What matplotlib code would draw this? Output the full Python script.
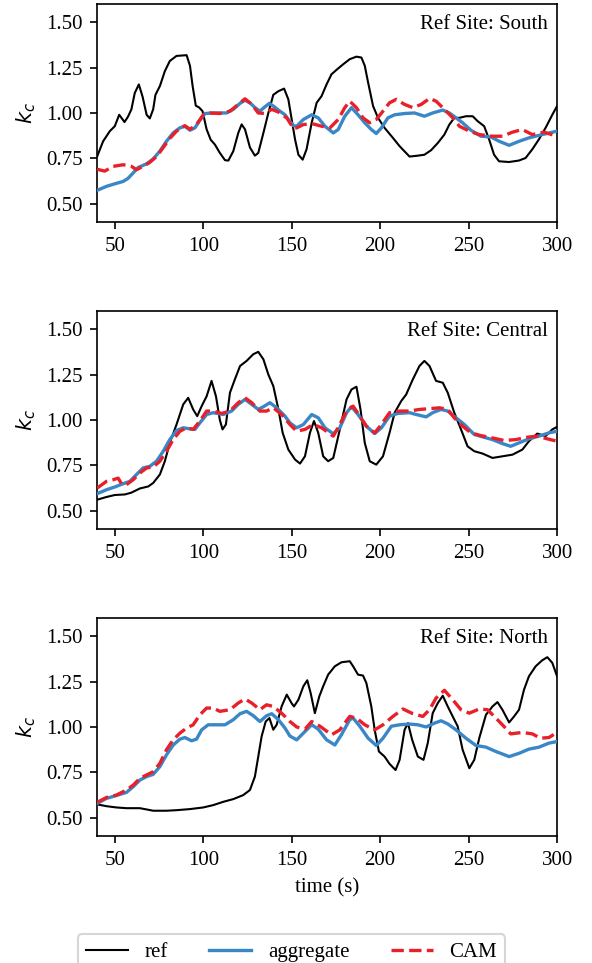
import matplotlib
matplotlib.use("Agg")
import matplotlib.pyplot as plt
from matplotlib.lines import Line2D

plt.rcParams['font.family'] = ['Liberation Serif', 'DejaVu Serif']
plt.rcParams['mathtext.fontset'] = 'dejavusans'

# ---------------- data ----------------
sites = ["South", "Central", "North"]

# South
s_ref_x = [40, 43.4, 47.2, 50, 52.5, 54, 55.5, 57.5, 59.4, 61.3, 63.6, 65.7, 68, 69.8, 71.7, 73, 75.5, 78.3, 81.1, 84.9,
           90.6, 92.5, 94, 95.8, 97.7, 99.6, 101.9, 104.2, 106.6, 109.4, 112.3, 114.2, 117, 119.8, 121.7, 123.6, 126.4,
           129.2, 131.1, 134, 136.8, 139.6, 142.5, 145.7, 148.1, 151.9, 153.8, 156.2, 158.4, 161.3, 164.1, 166.9,
           169.7, 172.5, 175.3, 179.1, 182.8, 186.6, 189.4, 191.3, 193.2, 196, 198.8, 202.5, 207.2, 211, 216.6, 221.3,
           225, 228.8, 232.6, 236.3, 239.1, 241.9, 244.7, 248.5, 252.3, 255.1, 258.8, 261.6, 264.4, 267.2, 272.8,
           278.4, 282.2, 286, 289.7, 293.5, 297.3, 300]
s_ref_y = [0.76, 0.844, 0.90, 0.927, 0.99, 0.97, 0.95, 0.98, 1.02, 1.11, 1.157, 1.09, 0.99, 0.97, 1.02, 1.10, 1.148, 1.23,
           1.286, 1.314, 1.318, 1.26, 1.148, 1.04, 1.03, 1.01, 0.91, 0.853, 0.826, 0.78, 0.74, 0.738, 0.79, 0.89,
           0.937, 0.91, 0.81, 0.765, 0.78, 0.89, 1.0, 1.10, 1.12, 1.134, 1.075, 0.854, 0.77, 0.743, 0.80, 0.946,
           1.056, 1.093, 1.157, 1.213, 1.237, 1.268, 1.296, 1.31, 1.305, 1.26, 1.167, 1.038, 0.973, 0.918, 0.863,
           0.817, 0.76, 0.765, 0.77, 0.795, 0.835, 0.881, 0.936, 0.973, 0.973, 0.982, 0.982, 0.955, 0.927, 0.854,
           0.77, 0.734, 0.73, 0.738, 0.752, 0.80, 0.854, 0.918, 0.99, 1.038]
s_agg_x = [40, 45.3, 50, 54.7, 57.5, 60.4, 63.2, 68, 71.7, 75.5, 79.2, 83, 86.8, 89.6, 92.5, 95.3, 98.1, 101, 105.7,
           113.2, 117, 120.8, 123.6, 126.4, 129.2, 132, 134.9, 137.4, 139.6, 142.5, 146.2, 148.1, 151, 152.8, 156.6,
           161.3, 165, 168.8, 173.5, 176.3, 180, 183.8, 187.5, 191.3, 195, 197.8, 200.7, 204.4, 208.2, 213.8, 219.4,
           225, 229.7, 235.4, 239.1, 242.9, 246.6, 251.3, 257, 262.6, 267.3, 272.9, 278.5, 284.1, 291.6, 300]
s_agg_y = [0.574, 0.596, 0.61, 0.623, 0.64, 0.67, 0.70, 0.72, 0.747, 0.79, 0.844, 0.89, 0.918, 0.927, 0.905, 0.918,
           0.96, 0.997, 1.0, 1.0, 1.02, 1.053, 1.07, 1.056, 1.03, 1.01, 1.034, 1.053, 1.038, 1.016, 0.99, 0.964, 0.93,
           0.927, 0.964, 0.99, 0.973, 0.927, 0.89, 0.909, 0.982, 1.029, 0.99, 0.946, 0.909, 0.887, 0.918, 0.973, 0.99,
           0.997, 1.0, 0.982, 1.0, 1.016, 1.0, 0.973, 0.946, 0.905, 0.872, 0.868, 0.844, 0.822, 0.844, 0.863, 0.881,
           0.90]
s_cam_x = [40, 44.3, 49.1, 54.7, 59.4, 62.3, 66, 69.8, 73.6, 77.4, 81.1, 84.9, 89.6, 92.5, 96.2, 100, 103.8, 109.4,
           115.1, 118.9, 123.6, 127.4, 131.1, 134.9, 138.7, 142.5, 147.2, 151, 152.8, 156.6, 161.3, 166.9, 171.6,
           176.3, 180, 182.8, 186.6, 190.3, 194.1, 197.8, 201.6, 205.3, 209.1, 213.8, 218.5, 223.2, 227.9, 231.6,
           236.3, 241.1, 244.8, 250.4, 256, 263.5, 269.1, 274.7, 280.3, 286, 292.6, 300]
s_cam_y = [0.69, 0.68, 0.706, 0.715, 0.706, 0.688, 0.706, 0.728, 0.76, 0.81, 0.86, 0.90, 0.93, 0.91, 0.936, 0.99, 1.0,
           0.997, 1.01, 1.04, 1.078, 1.047, 1.0, 0.997, 1.02, 1.005, 0.973, 0.915, 0.918, 0.936, 0.942, 0.927, 0.918,
           0.964, 1.029, 1.065, 1.029, 0.973, 0.946, 0.964, 1.01, 1.056, 1.075, 1.047, 1.029, 1.047, 1.08, 1.065,
           1.02, 0.973, 0.927, 0.90, 0.881, 0.872, 0.872, 0.894, 0.909, 0.881, 0.894, 0.872]

# Central
c_ref_x = [40, 45.3, 50, 55.7, 59.4, 64.2, 68.9, 71.7, 75.5, 78.3, 81.1, 84.9, 88.7, 91.5, 94.3, 96.6, 99.1, 101.9,
           104.7, 107.2, 109.4, 110.9, 112.8, 115.1, 117.9, 120.8, 124.5, 128.3, 131.1, 134, 136.8, 139.6, 142.5,
           144.9, 148.1, 151.9, 154.7, 157.5, 160.3, 162.6, 165, 167.8, 170.6, 173.5, 177.2, 181, 183.8, 186.6,
           188.9, 191.3, 194.1, 197.8, 201.6, 205.3, 208.2, 211.9, 214.7, 218.5, 222.2, 225, 227.9, 231.6, 235.4,
           238.2, 241.9, 245.7, 249.4, 253.2, 257.9, 263.5, 269.1, 274.8, 280.4, 284.1, 288.8, 293.5, 297.3, 300]
c_ref_y = [0.561, 0.576, 0.587, 0.59, 0.60, 0.623, 0.634, 0.653, 0.70, 0.773, 0.874, 0.975, 1.086, 1.122, 1.058, 1.021,
           1.076, 1.13, 1.215, 1.13, 1.0, 0.948, 0.975, 1.15, 1.224, 1.297, 1.325, 1.362, 1.375, 1.334, 1.25, 1.187,
           1.058, 0.929, 0.837, 0.782, 0.76, 0.80, 0.929, 0.994, 0.929, 0.80, 0.773, 0.791, 0.948, 1.113, 1.168,
           1.183, 1.058, 0.874, 0.773, 0.754, 0.80, 0.929, 1.04, 1.104, 1.14, 1.224, 1.297, 1.325, 1.297, 1.215,
           1.205, 1.15, 1.04, 0.948, 0.855, 0.828, 0.815, 0.791, 0.80, 0.809, 0.837, 0.883, 0.925, 0.911, 0.948,
           0.962]
c_agg_x = [40, 45.3, 50, 54.7, 58.5, 62.3, 66, 69.8, 73.6, 77.4, 81.1, 84.9, 88.7, 92.5, 95.3, 98.1, 101.9, 105.7,
           111.3, 116, 119.8, 123.6, 127.4, 131.1, 134, 137.7, 141.5, 146.2, 149, 152.8, 156.6, 161.3, 165, 168.8,
           173.5, 177.2, 181, 183.8, 187.5, 192.2, 196.9, 200.7, 205.3, 210, 216.6, 220.4, 226, 229.7, 234.4, 238.2,
           242.9, 247.6, 253.2, 257.9, 263.5, 269.1, 273.8, 278.5, 284.1, 289.8, 295.4, 300]
c_agg_y = [0.594, 0.616, 0.631, 0.649, 0.662, 0.70, 0.736, 0.745, 0.773, 0.828, 0.892, 0.942, 0.957, 0.951, 0.948,
           0.984, 1.03, 1.04, 1.03, 1.049, 1.086, 1.113, 1.086, 1.058, 1.073, 1.095, 1.067, 1.021, 0.984, 0.957,
           0.975, 1.03, 1.012, 0.957, 0.924, 0.957, 1.04, 1.073, 1.03, 0.966, 0.925, 0.957, 1.021, 1.036, 1.04, 1.03,
           1.017, 1.04, 1.058, 1.049, 1.012, 0.975, 0.92, 0.907, 0.892, 0.87, 0.855, 0.874, 0.896, 0.911, 0.929,
           0.938]
c_cam_x = [40, 45.3, 49.1, 51.9, 53.8, 56.6, 60.4, 64.2, 68, 71.7, 75.5, 79.2, 83, 86.8, 90.6, 94.3, 98.1, 101.9,
           105.7, 110.4, 115.1, 119.8, 123.6, 127.4, 132, 135.8, 139.6, 144.3, 149, 152.8, 157.5, 162.2, 166.9,
           173.5, 177.2, 181, 184.7, 188.5, 192.2, 196.9, 200.7, 205.3, 211, 216.6, 222.2, 227.9, 233.5, 238.2,
           241.9, 246.6, 251.3, 256.9, 263.5, 270.1, 276.7, 283.2, 288.9, 294.5, 300]
c_cam_y = [0.625, 0.662, 0.671, 0.68, 0.649, 0.644, 0.671, 0.708, 0.736, 0.741, 0.773, 0.828, 0.892, 0.938, 0.957,
           0.948, 0.994, 1.049, 1.049, 1.036, 1.049, 1.095, 1.122, 1.095, 1.049, 1.049, 1.067, 1.03, 0.975, 0.938,
           0.948, 0.975, 0.957, 0.911, 0.975, 1.049, 1.076, 1.021, 0.966, 0.929, 0.975, 1.04, 1.049, 1.049, 1.058,
           1.062, 1.067, 1.058, 1.012, 0.966, 0.929, 0.914, 0.901, 0.887, 0.892, 0.905, 0.911, 0.896, 0.883]

# North
n_ref_x = [40, 45.3, 50.9, 56.6, 64.2, 68, 71.7, 79.2, 84.9, 92.5, 100, 105.7, 111.3, 117, 122.6, 126.4, 129.2, 131.1,
           133, 135.3, 137.4, 139.6, 141.5, 144.3, 147.2, 150, 151.3, 153.8, 156.6, 158.8, 160.7, 163.1, 165.6,
           167.8, 170.6, 174.4, 178.1, 182.8, 184.7, 187.5, 190.3, 192.2, 195, 196.9, 199.3, 202.5, 205.3, 208.7,
           211, 213.8, 215.7, 218.1, 221.3, 224.5, 226.9, 229.7, 232.6, 235.4, 238.2, 241, 243.8, 246.6, 250.4,
           253.2, 256, 259.8, 263.5, 266.3, 269.1, 272.9, 275.7, 278.5, 281.3, 284.1, 287.9, 291.6, 294.5, 297.3,
           300]
n_ref_y = [0.574, 0.564, 0.557, 0.553, 0.553, 0.546, 0.539, 0.539, 0.542, 0.548, 0.557, 0.57, 0.588, 0.603, 0.625,
           0.653, 0.727, 0.837, 0.948, 1.03, 1.049, 0.985, 1.012, 1.113, 1.178, 1.13, 1.113, 1.15, 1.224, 1.257,
           1.187, 1.076, 1.168, 1.224, 1.288, 1.334, 1.356, 1.362, 1.334, 1.288, 1.283, 1.242, 1.113, 0.984, 0.865,
           0.837, 0.797, 0.763, 0.819, 0.984, 1.021, 0.929, 0.837, 0.819, 0.911, 1.076, 1.132, 1.172, 1.113, 1.058,
           1.004, 0.875, 0.773, 0.819, 0.938, 1.067, 1.113, 1.137, 1.095, 1.025, 1.058, 1.095, 1.205, 1.279, 1.334,
           1.367, 1.384, 1.353, 1.279]
n_agg_x = [40, 45.3, 50, 56.6, 60.4, 64.2, 68, 71.7, 75.5, 79.2, 83, 86.8, 89.6, 93.4, 96.2, 99.1, 102.8, 107.5, 112.3,
           117, 120.8, 124.5, 128.3, 132, 135.8, 138.7, 142.5, 146.2, 149, 152.8, 156.6, 161.3, 165, 169.7, 174.4,
           178.1, 182.8, 184.7, 188.5, 193.2, 197.8, 201.6, 206.3, 211, 216.6, 221.3, 226, 230.7, 234.4, 238.2,
           242.9, 248.5, 254.2, 259.8, 265.4, 272.9, 278.5, 284.1, 289.8, 295.4, 300]
n_agg_y = [0.579, 0.607, 0.62, 0.64, 0.671, 0.708, 0.727, 0.739, 0.782, 0.846, 0.90, 0.933, 0.942, 0.924, 0.933, 0.984,
           1.012, 1.012, 1.012, 1.04, 1.073, 1.086, 1.062, 1.03, 1.062, 1.073, 1.04, 0.994, 0.95, 0.929, 0.966,
           1.012, 0.988, 0.929, 0.901, 0.957, 1.04, 1.049, 1.004, 0.938, 0.898, 0.938, 1.004, 1.012, 1.016, 1.012,
           1.0, 1.021, 1.034, 1.017, 0.984, 0.938, 0.898, 0.889, 0.865, 0.837, 0.855, 0.878, 0.889, 0.911, 0.92]
n_cam_x = [40, 45.3, 50.9, 56.6, 60.4, 64.2, 68, 71.7, 75.5, 79.2, 83, 86.8, 90.6, 94.3, 98.1, 101.9, 105.7, 109.4,
           115.1, 119.8, 123.6, 127.4, 132, 135.8, 139.6, 144.3, 149, 152.8, 157.5, 161.3, 166, 172.5, 177.2, 182.8,
           186.6, 191.3, 196.9, 201.6, 207.2, 212.9, 218.5, 224.1, 227.9, 231.6, 236.3, 241, 245.7, 250.4, 256,
           260.7, 264.5, 269.1, 273.8, 280.4, 286, 290.7, 295.4, 300]
n_cam_y = [0.585, 0.612, 0.625, 0.653, 0.68, 0.717, 0.736, 0.754, 0.80, 0.874, 0.929, 0.966, 0.994, 1.012, 1.067,
           1.104, 1.104, 1.086, 1.095, 1.132, 1.154, 1.132, 1.095, 1.122, 1.113, 1.076, 1.03, 1.0, 0.988, 1.03,
           1.004, 0.957, 0.984, 1.058, 1.049, 1.012, 0.984, 1.012, 1.058, 1.099, 1.073, 1.058, 1.095, 1.159, 1.202,
           1.15, 1.095, 1.076, 1.099, 1.095, 1.058, 1.012, 0.962, 0.97, 0.962, 0.938, 0.942, 0.97]

panels = [
    (s_ref_x, s_ref_y, s_agg_x, s_agg_y, s_cam_x, s_cam_y),
    (c_ref_x, c_ref_y, c_agg_x, c_agg_y, c_cam_x, c_cam_y),
    (n_ref_x, n_ref_y, n_agg_x, n_agg_y, n_cam_x, n_cam_y),
]

x_ticks = [50, 100, 150, 200, 250, 300]
y_ticks = [0.50, 0.75, 1.00, 1.25, 1.50]

# ---------------- styles ----------------
C_REF = "black"
C_AGG = "#3a87c7"
C_CAM = "#e8202a"
FS = 10
DPI = 150

fig = plt.figure(figsize=(592 / DPI, 963 / DPI), dpi=DPI)
left, width, height = 0.164, 0.777, 0.2264
bottoms = [0.7695, 0.4507, 0.1319]

for i, (site, d) in enumerate(zip(sites, panels)):
    ax = fig.add_axes([left, bottoms[i], width, height])
    rx, ry, gx, gy, cx, cy = d
    ax.plot(rx, ry, color=C_REF, lw=1.0, zorder=2)
    ax.plot(gx, gy, color=C_AGG, lw=1.6, zorder=3)
    ax.plot(cx, cy, color=C_CAM, lw=1.6, ls="--", zorder=4)
    ax.set_xlim(40, 300)
    ax.set_ylim(0.4, 1.6)
    ax.set_xticks(x_ticks)
    ax.set_yticks(y_ticks)
    ax.set_yticklabels([f"{v:.2f}" for v in y_ticks])
    ax.tick_params(labelsize=FS)
    ax.set_ylabel("$k_c$", fontsize=FS)
    ax.text(0.98, 0.95, f"Ref Site: {site}", transform=ax.transAxes,
            ha="right", va="top", fontsize=FS)
    if i == 2:
        ax.set_xlabel("time (s)", fontsize=FS)

handles = [
    Line2D([], [], color=C_REF, lw=1.0),
    Line2D([], [], color=C_AGG, lw=1.6),
    Line2D([], [], color=C_CAM, lw=1.6, ls="--"),
]
fig.legend(handles, ["ref", "aggregate", "CAM"], loc="upper center",
           bbox_to_anchor=(0.4924, 0.0405), ncol=3, fontsize=FS,
           frameon=True, fancybox=True)

fig.savefig("out.png", dpi=DPI)
